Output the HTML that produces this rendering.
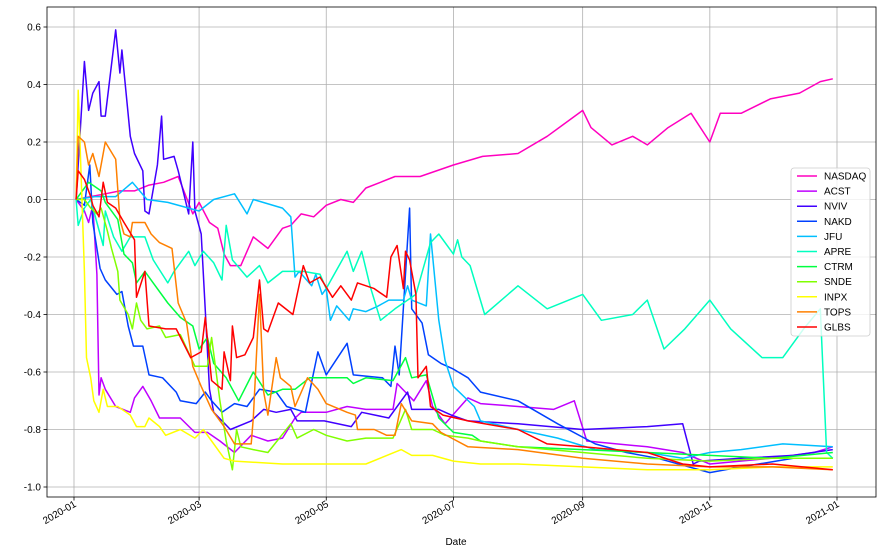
<!DOCTYPE html>
<html><head><meta charset="utf-8">
<style>
body{margin:0;background:#fff;font-family:"Liberation Sans",sans-serif;}
svg text{font-family:"Liberation Sans",sans-serif;font-size:10px;fill:#000;}
</style></head>
<body>
<svg id="chart" width="882" height="554" xmlns="http://www.w3.org/2000/svg">
<rect x="0" y="0" width="882" height="554" fill="#fff"/>
<g id="grid"></g>
<g id="series"></g>
<rect x="47" y="7" width="829" height="490" fill="none" stroke="#000" stroke-width="0.8"/>
<g id="axes"></g>
<text x="456" y="545" text-anchor="middle">Date</text>
<g id="legend"></g>
</svg>
<script>
const names = ["NASDAQ","ACST","NVIV","NAKD","JFU","APRE","CTRM","SNDE","INPX","TOPS","GLBS"];
const colors = ["#ff00bf","#bf00ff","#4000ff","#0040ff","#00bfff","#00ffbf","#00ff40","#80ff00","#ffff00","#ff8000","#ff0000"];

const NASDAQ_days = [1,8,15,22,29,36,43,50,57,60,65,69,72,75,80,86,93,100,104,109,115,121,128,134,140,147,154,166,182,196,213,227,244,248,258,268,275,285,296,305,310,320,334,348,358,364];
const NASDAQ = [0,0.01,0.02,0.03,0.03,0.05,0.06,0.08,-0.05,-0.01,-0.08,-0.1,-0.19,-0.23,-0.23,-0.13,-0.17,-0.1,-0.09,-0.05,-0.06,-0.02,0,-0.01,0.04,0.06,0.08,0.08,0.12,0.15,0.16,0.22,0.31,0.25,0.19,0.22,0.19,0.25,0.3,0.2,0.3,0.3,0.35,0.37,0.41,0.42];
const ACST_days = [1,5,7,9,11,12,13,15,20,27,29,33,37,41,51,58,64,70,77,85,93,100,106,109,121,131,140,153,155,163,169,172,178,189,195,213,230,240,246,275,292,305,334,355,364];
const ACST = [0,-0.04,-0.08,-0.02,-0.26,-0.68,-0.62,-0.66,-0.72,-0.74,-0.69,-0.65,-0.7,-0.76,-0.76,-0.81,-0.81,-0.84,-0.88,-0.82,-0.84,-0.83,-0.76,-0.74,-0.74,-0.72,-0.73,-0.73,-0.64,-0.7,-0.63,-0.72,-0.78,-0.69,-0.71,-0.72,-0.73,-0.7,-0.84,-0.86,-0.88,-0.92,-0.9,-0.88,-0.86];
const NVIV_days = [1,5,7,9,12,13,15,20,22,23,27,29,33,34,36,40,42,43,48,50,55,57,58,61,65,67,75,85,91,97,104,107,120,133,138,151,160,162,175,181,189,213,244,275,292,297,300,320,345,364];
const NVIV = [0,0.48,0.31,0.37,0.41,0.29,0.29,0.59,0.44,0.52,0.22,0.16,0.1,-0.04,-0.05,0.12,0.29,0.14,0.15,0.1,-0.05,0.2,-0.04,-0.12,-0.66,-0.74,-0.8,-0.77,-0.73,-0.74,-0.73,-0.77,-0.77,-0.79,-0.74,-0.76,-0.67,-0.73,-0.73,-0.75,-0.77,-0.78,-0.8,-0.79,-0.78,-0.92,-0.91,-0.9,-0.89,-0.87];
const NAKD_days = [1,5,7.6,9,12.5,15,20.6,23,26,28.5,33,36,42.5,49,51,58.6,63,66,71,77,83,89,97,102,111,117,119,121,131,134,148,152,154,156,161,162,167,170,176,182,189,195,213,232,250,265,280,305,320,345,364];
const NAKD = [0,-0.02,0.12,-0.08,-0.24,-0.28,-0.33,-0.32,-0.44,-0.51,-0.51,-0.61,-0.62,-0.67,-0.7,-0.71,-0.67,-0.7,-0.74,-0.71,-0.72,-0.66,-0.67,-0.72,-0.74,-0.53,-0.57,-0.61,-0.5,-0.61,-0.62,-0.65,-0.51,-0.61,-0.03,-0.38,-0.43,-0.54,-0.57,-0.59,-0.62,-0.67,-0.7,-0.78,-0.85,-0.88,-0.9,-0.95,-0.93,-0.9,-0.9];
const JFU_days = [1,10,20,28,35,45,60,67,77,83,86,100,104,106,108,114,116,119,121,123,126,132,134,140,146,151,158,160,162,169,171,175,178,182,192,195,213,232,250,275,292,305,320,340,364];
const JFU = [0,0.01,0.01,0.06,0,-0.01,-0.04,0,0.02,-0.05,0,-0.03,-0.06,-0.27,-0.25,-0.3,-0.26,-0.33,-0.31,-0.42,-0.37,-0.42,-0.38,-0.39,-0.37,-0.35,-0.35,-0.3,-0.35,-0.37,-0.12,-0.42,-0.56,-0.65,-0.72,-0.77,-0.8,-0.83,-0.87,-0.88,-0.9,-0.88,-0.87,-0.85,-0.86];
const APRE_days = [1,2,5,8,11,14,15,19,23,27,34,38,45,48,55,58,62,67,71,73,76,83,89,93,100,110,118,121,131,134,138,142,147,154,164,171,175,182,184,186,190,197,213,227,244,253,268,275,283,293,305,315,330,340,350,358,361,364];
const APRE = [0,-0.09,-0.03,0,-0.08,-0.16,-0.04,-0.13,-0.18,-0.13,-0.13,-0.21,-0.29,-0.25,-0.18,-0.23,-0.18,-0.22,-0.28,-0.09,-0.21,-0.27,-0.23,-0.29,-0.25,-0.25,-0.26,-0.31,-0.18,-0.25,-0.18,-0.3,-0.42,-0.38,-0.33,-0.15,-0.12,-0.19,-0.14,-0.2,-0.23,-0.4,-0.3,-0.38,-0.33,-0.42,-0.4,-0.35,-0.52,-0.45,-0.35,-0.45,-0.55,-0.55,-0.45,-0.38,-0.88,-0.9];
const CTRM_days = [1,7,13,15,21,24,28,30,34,38,45,51,57,60,64,67,73,79,86,93,100,106,113,118,131,134,140,153,159,162,169,175,182,191,195,213,244,275,305,335,364];
const CTRM = [0,0.06,0.03,-0.01,-0.07,-0.19,-0.22,-0.29,-0.25,-0.29,-0.36,-0.41,-0.44,-0.52,-0.48,-0.57,-0.62,-0.7,-0.6,-0.68,-0.66,-0.66,-0.62,-0.62,-0.62,-0.64,-0.62,-0.63,-0.55,-0.62,-0.61,-0.76,-0.81,-0.82,-0.84,-0.86,-0.87,-0.88,-0.89,-0.9,-0.88];
const SNDE_days = [1,5,8,11,13,16,18,21,22,26,28,30,32,35,41,44,51,58,64,66,70,73,76,78,80,86,93,104,107,115,121,131,140,153,159,162,172,178,189,195,213,244,275,305,335,364];
const SNDE = [0,0,-0.03,-0.05,-0.03,-0.11,-0.17,-0.25,-0.35,-0.4,-0.45,-0.36,-0.42,-0.45,-0.44,-0.48,-0.47,-0.58,-0.58,-0.48,-0.7,-0.84,-0.94,-0.8,-0.86,-0.87,-0.88,-0.78,-0.83,-0.8,-0.82,-0.84,-0.83,-0.83,-0.73,-0.8,-0.8,-0.82,-0.83,-0.84,-0.86,-0.88,-0.9,-0.91,-0.9,-0.9];
const INPX_days = [1,2,5,6,8,9.5,12,14,16,21,27,30,34,36,41,44,51,58,62,72,77,100,140,157,162,172,182,195,213,244,275,305,335,364];
const INPX = [0,0.38,-0.25,-0.55,-0.62,-0.7,-0.74,-0.66,-0.72,-0.72,-0.75,-0.79,-0.79,-0.76,-0.79,-0.82,-0.8,-0.83,-0.8,-0.9,-0.91,-0.92,-0.92,-0.87,-0.89,-0.89,-0.91,-0.92,-0.92,-0.93,-0.94,-0.94,-0.93,-0.93];
const TOPS_days = [1,2,5,7,9,12,15,20,22,24,27,28,34,37,41,47,50,54,57,61,66,72,77,85,86,89,91,93,97,99,104,106,112,117,121,131,135,136,144,150,154,157,162,172,176,189,213,244,275,305,335,364];
const TOPS = [0,0.22,0.2,0.12,0.16,0.08,0.2,0.14,-0.07,-0.12,-0.13,-0.08,-0.08,-0.12,-0.15,-0.17,-0.36,-0.43,-0.58,-0.65,-0.73,-0.79,-0.85,-0.85,-0.76,-0.33,-0.67,-0.75,-0.55,-0.62,-0.65,-0.72,-0.62,-0.66,-0.71,-0.74,-0.75,-0.8,-0.8,-0.82,-0.82,-0.71,-0.77,-0.78,-0.81,-0.86,-0.87,-0.9,-0.92,-0.93,-0.93,-0.94];
const GLBS_days = [1,2,5,8,9,12,14,16,20,24,29,30,34,36,44,49,56,61,63,66,71,72,75,76,78,82,86,89,91,93,98,105,110,113,118,124,128,133,136,144,150,152,155,158,159,161,164,165,169,171,177,189,213,227,244,275,292,305,335,364];
const GLBS = [0,0.1,0.07,0.01,-0.02,-0.06,0.06,-0.01,-0.03,-0.08,-0.14,-0.34,-0.25,-0.44,-0.45,-0.45,-0.55,-0.53,-0.41,-0.63,-0.66,-0.53,-0.63,-0.44,-0.55,-0.54,-0.48,-0.28,-0.45,-0.46,-0.36,-0.4,-0.23,-0.29,-0.27,-0.34,-0.3,-0.35,-0.29,-0.31,-0.34,-0.2,-0.16,-0.31,-0.18,-0.21,-0.33,-0.62,-0.58,-0.72,-0.75,-0.77,-0.8,-0.85,-0.86,-0.88,-0.92,-0.93,-0.92,-0.94];

const yTicks = [0.6,0.4,0.2,0.0,-0.2,-0.4,-0.6,-0.8,-1.0];
const xTickDays = [0,60,121,182,244,305,366];
const xTickLabels = ["2020-01","2020-03","2020-05","2020-07","2020-09","2020-11","2021-01"];

const allDays = [NASDAQ_days,ACST_days,NVIV_days,NAKD_days,JFU_days,APRE_days,CTRM_days,SNDE_days,INPX_days,TOPS_days,GLBS_days];
const allSeries = [NASDAQ,ACST,NVIV,NAKD,JFU,APRE,CTRM,SNDE,INPX,TOPS,GLBS];
const NS = "http://www.w3.org/2000/svg";
const xs = d => 74 + d * (837 - 74) / 366;
const ys = v => 199.5 - v * 287.5;
function mk(tag, attrs, parent){const e=document.createElementNS(NS,tag);for(const k in attrs)e.setAttribute(k,attrs[k]);parent.appendChild(e);return e;}
const grid=document.getElementById('grid'), axes=document.getElementById('axes'), ser=document.getElementById('series'), leg=document.getElementById('legend');

yTicks.forEach(v=>{
  const y=ys(v);
  const gl=mk('line',{x1:47,x2:876,y1:y,y2:y,stroke:'#b0b0b0','stroke-width':0.8},grid);
  
  
  mk('line',{x1:43.5,x2:47,y1:y,y2:y,stroke:'#000','stroke-width':0.8},axes);
  const t=mk('text',{x:41,y:y+3.5,'text-anchor':'end'},axes);
  t.textContent=v.toFixed(1);
  
  
});
xTickDays.forEach((d,i)=>{
  const x=xs(d);
  const gl=mk('line',{x1:x,x2:x,y1:7,y2:497,stroke:'#b0b0b0','stroke-width':0.8},grid);
  
  
  mk('line',{x1:x,x2:x,y1:497,y2:500.5,stroke:'#000','stroke-width':0.8},axes);
  const t=mk('text',{x:x+3,y:506,'text-anchor':'end',transform:`rotate(-30 ${x+3} 506)`},axes);
  t.textContent=xTickLabels[i];
  
  
});
allSeries.forEach((s,i)=>{
  const dd=allDays[i];
  const pts=s.map((v,j)=>xs(dd[j]).toFixed(1)+','+ys(v).toFixed(1)).join(' ');
  const p=mk('polyline',{points:pts,fill:'none',stroke:colors[i],'stroke-width':1.5,'stroke-linejoin':'round'},ser);
  
  
});
const lb=mk('rect',{x:791,y:168,width:79,height:168,rx:3,fill:'#fff','fill-opacity':0.8,stroke:'#ccc','stroke-width':0.8},leg);


names.forEach((n,i)=>{
  const y=176+i*15.1;
  const g=mk('g',{},leg);
  
  
  mk('line',{x1:797,x2:817,y1:y,y2:y,stroke:colors[i],'stroke-width':1.5},g);
  const t=mk('text',{x:824,y:y+3.5},g);
  t.textContent=n;
});
</script>
</body></html>
